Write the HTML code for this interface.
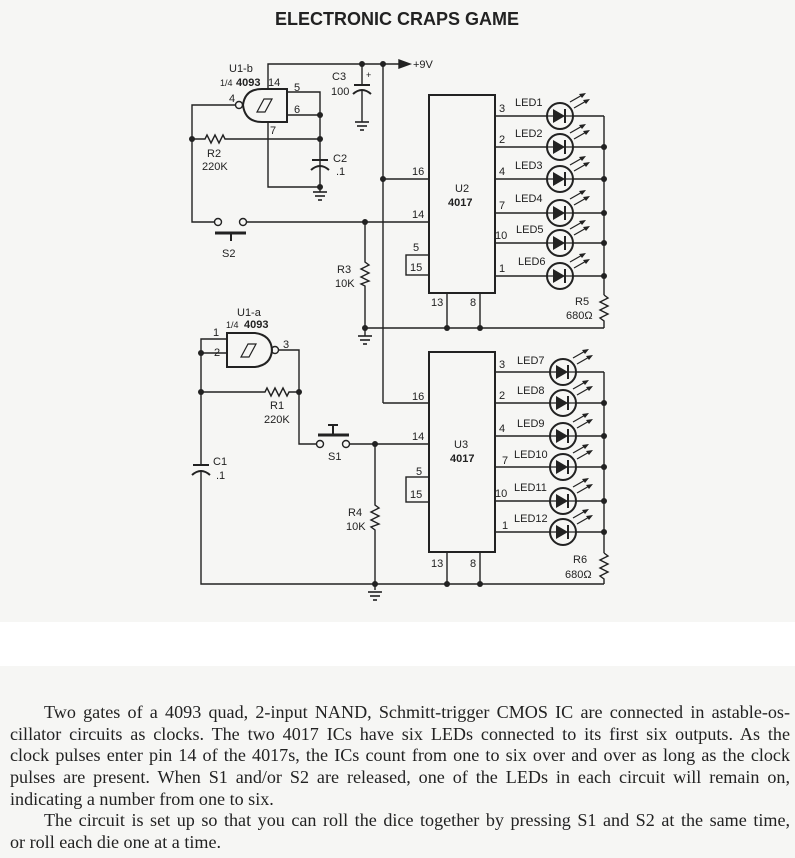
<!DOCTYPE html>
<html><head><meta charset="utf-8"><style>
body{margin:0;width:795px;height:858px;overflow:hidden;background:#f6f6f4;font-family:"Liberation Sans",sans-serif;position:relative}
.band{position:absolute;left:0;top:622px;width:795px;height:44px;background:#fff}
.tx{position:absolute;left:10px;width:780px;font-family:"Liberation Serif",serif;font-size:18.1px;color:#222;white-space:nowrap;text-align:justify;text-align-last:justify;line-height:22px}
.tx.s{text-align-last:left}
svg{position:absolute;left:0;top:0}
</style></head><body>
<div class="band"></div>
<svg width="795" height="622" viewBox="0 0 795 622">
<defs>
<g id="led">
<circle cx="0" cy="0" r="13" fill="#f6f6f4" stroke="#222" stroke-width="2"/>
<line x1="-13" y1="0" x2="13" y2="0" stroke="#222" stroke-width="1.3"/>
<polygon points="-7,-7 -7,7 5,0" fill="#222"/>
<line x1="5" y1="-7" x2="5" y2="7" stroke="#222" stroke-width="2"/>
<line x1="10" y1="-14" x2="24" y2="-22" stroke="#222" stroke-width="1.2"/>
<polygon points="26,-23 19,-22 22,-18" fill="#222"/>
<line x1="14" y1="-8" x2="28" y2="-16" stroke="#222" stroke-width="1.2"/>
<polygon points="30,-17 23,-16 26,-12" fill="#222"/>
</g>
<g id="gnd" stroke="#222" stroke-width="1.6">
<line x1="-7" y1="0" x2="7" y2="0"/><line x1="-5" y1="4" x2="5" y2="4"/><line x1="-2" y1="8" x2="2" y2="8"/>
</g>
</defs>
<text x="397" y="25" text-anchor="middle" font-size="18" font-weight="bold" fill="#222">ELECTRONIC CRAPS GAME</text>
<g stroke="#222" stroke-width="1.4" fill="none">
<polyline points="268,89 268,64 400,64"/>
<polygon points="410,64 399,60 399,68" fill="#222"/>
<line x1="362" y1="64" x2="362" y2="84"/>
<line x1="354" y1="85" x2="370" y2="85" stroke-width="2"/>
<path d="M353,94 Q362,86 371,94" stroke-width="2"/>
<line x1="362" y1="90" x2="362" y2="122"/>
<use href="#gnd" x="362" y="122"/>
<line x1="383" y1="64" x2="383" y2="403"/>
<line x1="383" y1="179" x2="429" y2="179"/>
<line x1="383" y1="403" x2="429" y2="403"/>
<path d="M287,89 L262,89 Q245,89 243,105 Q245,122 262,122 L287,122 Z" stroke-width="2"/>
<circle cx="239" cy="105" r="3.5"/>
<path d="M257,112 L264,99 L272,99 L265,112 Z" stroke-width="1.2"/>
<polyline points="287,92 320,92 320,187"/>
<line x1="287" y1="115" x2="320" y2="115"/>
<polyline points="268,122 268,187 320,187"/>
<use href="#gnd" x="320" y="192"/>
<line x1="320" y1="187" x2="320" y2="192"/>
<line x1="312" y1="160" x2="328" y2="160" stroke-width="2"/>
<path d="M311,170 Q320,162 329,170" stroke-width="2"/>
<polyline points="235,105 192,105 192,222 214,222"/>
<polyline points="192,139 205,139 207,135 211,143 215,135 219,143 223,135 225,139 320,139"/>
<circle cx="218" cy="222" r="3.5" fill="#f6f6f4"/>
<circle cx="243" cy="222" r="3.5" fill="#f6f6f4"/>
<line x1="247" y1="222" x2="429" y2="222"/>
<line x1="215" y1="233" x2="246" y2="233" stroke-width="3"/>
<line x1="231" y1="233" x2="231" y2="241" stroke-width="2"/>
<polyline points="365,222 365,262 369,265 361,269 369,273 361,277 369,281 361,284 365,286 365,330"/>
<use href="#gnd" x="365" y="336"/>
<line x1="365" y1="330" x2="365" y2="336"/>
<line x1="365" y1="328" x2="604" y2="328"/>
<rect x="429" y="95" width="66" height="198" stroke-width="2"/>
<rect x="406" y="255" width="23" height="20"/>
<line x1="447" y1="293" x2="447" y2="328"/><line x1="480" y1="293" x2="480" y2="328"/>
<line x1="604" y1="116" x2="604" y2="295"/>
<polyline points="604,295 608,298 600,302 608,306 600,310 608,314 600,318 604,321 604,328"/>
<line x1="495" y1="116" x2="604" y2="116"/><line x1="495" y1="147" x2="604" y2="147"/>
<line x1="495" y1="179" x2="604" y2="179"/><line x1="495" y1="213" x2="604" y2="213"/>
<line x1="495" y1="243" x2="604" y2="243"/><line x1="495" y1="276" x2="604" y2="276"/>
<path d="M227,333 L255,333 Q271,335 272,350 Q271,365 255,367 L227,367 Z" stroke-width="2"/>
<circle cx="275" cy="350" r="3.5"/>
<path d="M241,357 L248,344 L256,344 L249,357 Z" stroke-width="1.2"/>
<polyline points="279,350 299,350 299,444 316,444"/>
<polyline points="227,339 201,339 201,465"/>
<line x1="201" y1="353" x2="227" y2="353"/>
<polyline points="201,392 265,392 267,388 271,396 275,388 279,396 283,388 287,396 289,392 299,392"/>
<line x1="193" y1="465" x2="209" y2="465" stroke-width="2"/>
<path d="M192,475 Q201,467 210,475" stroke-width="2"/>
<polyline points="201,470 201,584 604,584"/>
<circle cx="320" cy="444" r="3.5" fill="#f6f6f4"/>
<circle cx="346" cy="444" r="3.5" fill="#f6f6f4"/>
<line x1="350" y1="444" x2="429" y2="444"/>
<line x1="318" y1="435" x2="349" y2="435" stroke-width="3"/>
<line x1="333" y1="425" x2="333" y2="435" stroke-width="2"/>
<line x1="328" y1="425" x2="338" y2="425" stroke-width="2"/>
<polyline points="375,444 375,505 379,508 371,512 379,516 371,520 379,524 371,527 375,530 375,590"/>
<use href="#gnd" x="375" y="592"/>
<rect x="429" y="352" width="66" height="200" stroke-width="2"/>
<rect x="406" y="477" width="23" height="25"/>
<line x1="447" y1="552" x2="447" y2="584"/><line x1="480" y1="552" x2="480" y2="584"/>
<line x1="604" y1="372" x2="604" y2="553"/>
<polyline points="604,553 608,556 600,560 608,564 600,568 608,572 600,576 604,579 604,584"/>
<line x1="495" y1="372" x2="604" y2="372"/><line x1="495" y1="403" x2="604" y2="403"/>
<line x1="495" y1="436" x2="604" y2="436"/><line x1="495" y1="467" x2="604" y2="467"/>
<line x1="495" y1="501" x2="604" y2="501"/><line x1="495" y1="532" x2="604" y2="532"/>
</g>
<g fill="#222">
<circle cx="362" cy="64" r="3"/><circle cx="383" cy="64" r="3"/><circle cx="383" cy="179" r="3"/>
<circle cx="320" cy="115" r="3"/><circle cx="320" cy="139" r="3"/><circle cx="320" cy="187" r="3"/>
<circle cx="192" cy="139" r="3"/><circle cx="365" cy="222" r="3"/><circle cx="365" cy="328" r="3"/>
<circle cx="447" cy="328" r="3"/><circle cx="480" cy="328" r="3"/>
<circle cx="604" cy="147" r="3"/><circle cx="604" cy="179" r="3"/><circle cx="604" cy="213" r="3"/><circle cx="604" cy="243" r="3"/><circle cx="604" cy="276" r="3"/>
<circle cx="201" cy="353" r="3"/><circle cx="201" cy="392" r="3"/><circle cx="299" cy="392" r="3"/>
<circle cx="375" cy="444" r="3"/><circle cx="375" cy="584" r="3"/><circle cx="447" cy="584" r="3"/><circle cx="480" cy="584" r="3"/>
<circle cx="604" cy="403" r="3"/><circle cx="604" cy="436" r="3"/><circle cx="604" cy="467" r="3"/><circle cx="604" cy="501" r="3"/><circle cx="604" cy="532" r="3"/>
</g>
<use href="#led" x="560" y="116"/><use href="#led" x="560" y="147"/><use href="#led" x="560" y="179"/>
<use href="#led" x="560" y="213"/><use href="#led" x="560" y="243"/><use href="#led" x="560" y="276"/>
<use href="#led" x="563" y="372"/><use href="#led" x="563" y="403"/><use href="#led" x="563" y="436"/>
<use href="#led" x="563" y="467"/><use href="#led" x="563" y="501"/><use href="#led" x="563" y="532"/>
<g font-size="11" fill="#222">
<text x="229" y="72">U1-b</text><text x="220" y="86" font-size="9">1/4</text><text x="236" y="86" font-weight="bold">4093</text>
<text x="268" y="86">14</text><text x="294" y="91">5</text><text x="294" y="113">6</text><text x="229" y="102">4</text><text x="270" y="134">7</text>
<text x="207" y="157">R2</text><text x="202" y="170">220K</text>
<text x="333" y="162">C2</text><text x="336" y="175">.1</text>
<text x="332" y="80">C3</text><text x="331" y="95">100</text><text x="366" y="78" font-size="9">+</text>
<text x="413" y="68">+9V</text>
<text x="222" y="257">S2</text>
<text x="412" y="175">16</text><text x="412" y="218">14</text><text x="413" y="251">5</text><text x="410" y="271">15</text>
<text x="455" y="192">U2</text><text x="448" y="206" font-weight="bold">4017</text>
<text x="337" y="273">R3</text><text x="335" y="287">10K</text>
<text x="431" y="306">13</text><text x="470" y="306">8</text>
<text x="499" y="112">3</text><text x="499" y="143">2</text><text x="499" y="175">4</text><text x="499" y="209">7</text><text x="495" y="239">10</text><text x="499" y="272">1</text>
<text x="515" y="106">LED1</text><text x="515" y="137">LED2</text><text x="515" y="169">LED3</text><text x="515" y="202">LED4</text><text x="516" y="233">LED5</text><text x="518" y="265">LED6</text>
<text x="575" y="305">R5</text><text x="566" y="319">680Ω</text>
<text x="237" y="316">U1-a</text><text x="226" y="328" font-size="9">1/4</text><text x="244" y="328" font-weight="bold">4093</text>
<text x="213" y="336">1</text><text x="214" y="356">2</text><text x="283" y="348">3</text>
<text x="270" y="409">R1</text><text x="264" y="423">220K</text>
<text x="213" y="465">C1</text><text x="216" y="479">.1</text>
<text x="328" y="460">S1</text>
<text x="412" y="400">16</text><text x="412" y="440">14</text><text x="416" y="475">5</text><text x="410" y="498">15</text>
<text x="454" y="448">U3</text><text x="450" y="462" font-weight="bold">4017</text>
<text x="348" y="516">R4</text><text x="346" y="530">10K</text>
<text x="431" y="567">13</text><text x="470" y="567">8</text>
<text x="499" y="368">3</text><text x="499" y="399">2</text><text x="499" y="432">4</text><text x="502" y="464">7</text><text x="495" y="497">10</text><text x="502" y="529">1</text>
<text x="517" y="364">LED7</text><text x="517" y="394">LED8</text><text x="517" y="427">LED9</text><text x="514" y="458">LED10</text><text x="514" y="491">LED11</text><text x="514" y="522">LED12</text>
<text x="573" y="563">R6</text><text x="565" y="578">680Ω</text>
</g>
</svg>
<div class="tx" style="top:701px;padding-left:34px;width:746px">Two gates of a 4093 quad, 2-input NAND, Schmitt-trigger CMOS IC are connected in astable-os-</div>
<div class="tx" style="top:723px">cillator circuits as clocks. The two 4017 ICs have six LEDs connected to its first six outputs. As the</div>
<div class="tx" style="top:744px">clock pulses enter pin 14 of the 4017s, the ICs count from one to six over and over as long as the clock</div>
<div class="tx" style="top:766px">pulses are present. When S1 and/or S2 are released, one of the LEDs in each circuit will remain on,</div>
<div class="tx s" style="top:788px">indicating a number from one to six.</div>
<div class="tx" style="top:809px;padding-left:34px;width:746px">The circuit is set up so that you can roll the dice together by pressing S1 and S2 at the same time,</div>
<div class="tx s" style="top:831px">or roll each die one at a time.</div>
</body></html>
